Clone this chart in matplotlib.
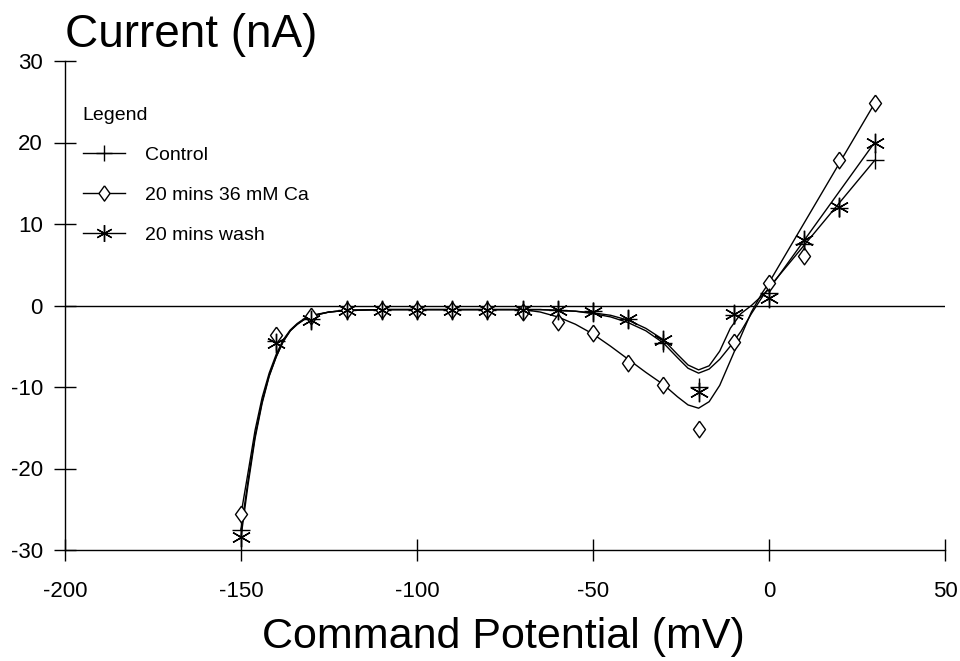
import numpy as np
import matplotlib
matplotlib.use("Agg")
import matplotlib.pyplot as plt
from matplotlib.lines import Line2D

plt.rcParams['font.family'] = ['Liberation Sans', 'DejaVu Sans']
plt.rcParams['axes.unicode_minus'] = False

# measured points
volt = [-150, -140, -130, -120, -110, -100, -90, -80, -70, -60,
        -50, -40, -30, -20, -10, 0, 10, 20, 30]
control = [-27.5, -4.3, -1.6, -0.5, -0.5, -0.5, -0.5, -0.5, -0.5, -0.5,
           -0.7, -1.6, -4.6, -10.0, -1.2, 1.5, 7.5, 12.0, 17.8]
ca36 = [-25.6, -3.6, -1.3, -0.5, -0.6, -0.6, -0.6, -0.6, -0.8, -2.0,
        -3.4, -7.0, -9.7, -15.2, -4.5, 2.8, 6.1, 17.8, 24.8]
wash = [-28.4, -4.6, -1.8, -0.6, -0.6, -0.6, -0.6, -0.6, -0.6, -0.6,
        -0.8, -1.6, -4.2, -10.6, -1.0, 0.9, 8.0, 12.1, 20.0]

# fitted curves
fit_v = [-150, -148, -146, -144, -142, -140, -138, -136, -134, -132, -130,
         -125, -120, -110, -100, -90, -80, -70, -65, -60, -55, -50, -45,
         -40, -35, -30, -26, -23, -20, -17, -14, -11, -8, -5, -2, 0, 30]
fit_control = [-27.5, -21.5, -16.0, -11.8, -8.6, -6.3, -4.4, -3.1, -2.3, -1.7, -1.3,
               -0.8, -0.6, -0.5, -0.5, -0.5, -0.5, -0.5, -0.5, -0.6, -0.7, -1.0, -1.4,
               -2.1, -3.1, -4.6, -6.4, -7.7, -8.3, -7.8, -6.6, -5.0, -3.2, -1.0, 1.0, 2.2, 17.8]
fit_ca36 = [-25.6, -20.5, -15.3, -11.3, -8.3, -6.0, -4.2, -3.0, -2.2, -1.6, -1.2,
            -0.8, -0.6, -0.5, -0.5, -0.5, -0.5, -0.5, -0.8, -1.4, -2.3, -3.5, -5.0,
            -6.6, -8.2, -9.7, -11.2, -12.2, -12.6, -11.8, -9.8, -6.8, -3.8, -0.8, 1.5, 2.8, 24.8]
fit_wash = [-28.4, -22.0, -16.3, -12.0, -8.7, -6.3, -4.4, -3.1, -2.3, -1.7, -1.3,
            -0.8, -0.6, -0.5, -0.5, -0.5, -0.5, -0.5, -0.5, -0.6, -0.7, -0.9, -1.2,
            -1.8, -2.8, -4.2, -6.0, -7.3, -7.9, -7.4, -5.6, -2.8, -1.0, 0.0, 1.2, 2.0, 20.0]

labels = ['Control', '20 mins 36 mM Ca', '20 mins wash']
xticks = [-200, -150, -100, -50, 0, 50]
yticks = [-30, -20, -10, 0, 10, 20, 30]

asterisk = (6, 2, 0)
diamond = [(0, 1), (0.72, 0), (0, -1), (-0.72, 0), (0, 1)]
lw = 1.0

fig = plt.figure(figsize=(9.6, 6.61), dpi=100)
ax = fig.add_axes([65 / 960, 111 / 661, 880 / 960, 489 / 661])

ax.axhline(0, color='black', lw=lw)

ax.plot(fit_v, fit_control, color='black', lw=lw)
ax.plot(fit_v, fit_ca36, color='black', lw=lw)
ax.plot(fit_v, fit_wash, color='black', lw=lw)

ax.plot(volt, control, ls='none', marker='+', ms=13, mew=1.0, color='black')
ax.plot(volt, ca36, ls='none', marker=diamond, ms=12, mew=1.0, mfc='white', mec='black')
ax.plot(volt, wash, ls='none', marker=asterisk, ms=14, mew=1.0, color='black')

ax.set_xlim(-200, 50)
ax.set_ylim(-30, 30)
ax.set_xticks(xticks)
ax.set_yticks(yticks)
ax.tick_params(direction='inout', length=16, width=1.0, labelsize=16)
ax.tick_params(axis='x', pad=14)
ax.tick_params(axis='y', pad=8)
ax.spines['top'].set_visible(False)
ax.spines['right'].set_visible(False)
for s in ['left', 'bottom']:
    ax.spines[s].set_linewidth(1.0)

handles = [
    Line2D([], [], color='black', lw=lw, marker='+', ms=12, mew=1.0),
    Line2D([], [], color='black', lw=lw, marker=diamond, ms=11, mew=1.0, mfc='white'),
    Line2D([], [], color='black', lw=lw, marker=asterisk, ms=12, mew=1.0),
]
leg = ax.legend(handles, labels, loc='upper left', bbox_to_anchor=(0.02, 0.905),
                frameon=False, title='Legend', alignment='left', fontsize=14,
                title_fontsize=14, handlelength=2.2, handletextpad=1.0,
                labelspacing=1.15, borderpad=0, borderaxespad=0)
leg._legend_box.sep = 16

fig.text(65 / 960, 1 - 47 / 661, 'Current (nA)', fontsize=33, va='baseline')
fig.text(503 / 960, 1 - 648 / 661, 'Command Potential (mV)', fontsize=31,
         ha='center', va='baseline')

fig.savefig('out.png', dpi=100)
